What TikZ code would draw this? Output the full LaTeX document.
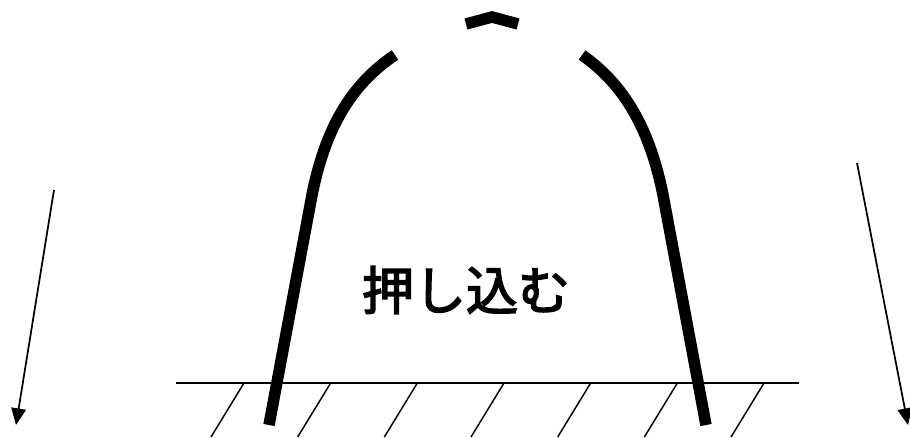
\documentclass[tikz,border=0pt]{standalone}
\usepackage{fontspec}
\newfontfamily\jpfont[FakeBold=3]{Noto Sans CJK JP}
\usetikzlibrary{arrows.meta}
\begin{document}
\begin{tikzpicture}[x=0.75pt,y=-0.75pt]
\useasboundingbox (0,0) rectangle (910,437);
\pgfmathsetmacro{\g}{383}
% ground and hatching
\draw[line width=1.5pt] (176,\g)--(799,\g);
\foreach \i in {0,...,6}
  \draw[line width=1.1pt] (244+86.67*\i,\g)--++(-33,54);
% the bent strip
\draw[line width=8.6pt] (269,425)--(312,195) .. controls (325,130) and (350,85) .. (395,55);
\draw[line width=8.6pt] (706,425)--(663,195) .. controls (650,130) and (625,85) .. (582,55);
\draw[line width=8.6pt,miter limit=4] (466,24)--(492,17)--(518,24);
% load arrows
\draw[line width=1.3pt,-{Triangle[length=12.5pt,width=11pt]}] (54,190)--(16,425);
\draw[line width=1.3pt,-{Triangle[length=12.5pt,width=11pt]}] (857,163)--(908,425);
\node[font=\jpfont\fontsize{39pt}{44pt}\selectfont] (push) at (466,290) {押し込む};
\end{tikzpicture}
\end{document}
